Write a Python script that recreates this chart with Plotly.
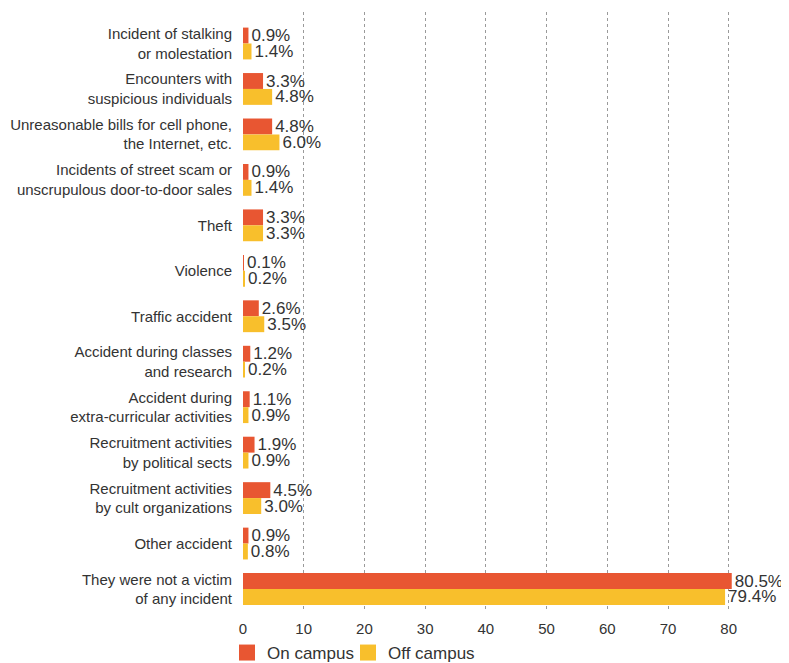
import plotly.graph_objects as go

categories = [
    "Incident of stalking<br>or molestation",
    "Encounters with<br>suspicious individuals",
    "Unreasonable bills for cell phone,<br>the Internet, etc.",
    "Incidents of street scam or<br>unscrupulous door-to-door sales",
    "Theft",
    "Violence",
    "Traffic accident",
    "Accident during classes<br>and research",
    "Accident during<br>extra-curricular activities",
    "Recruitment activities<br>by political sects",
    "Recruitment activities<br>by cult organizations",
    "Other accident",
    "They were not a victim<br>of any incident",
]
on_campus = [0.9, 3.3, 4.8, 0.9, 3.3, 0.1, 2.6, 1.2, 1.1, 1.9, 4.5, 0.9, 80.5]
off_campus = [1.4, 4.8, 6.0, 1.4, 3.3, 0.2, 3.5, 0.2, 0.9, 0.9, 3.0, 0.8, 79.4]

RED = "#E85632"
YELLOW = "#F8BF2C"
TEXT = "#333333"
FONT = "Liberation Sans, Arial"

series = [
    ("On campus", on_campus, RED, "legend"),
    ("Off campus", off_campus, YELLOW, "legend2"),
]

fig = go.Figure()
for name, vals, col, leg in series:
    fig.add_trace(go.Bar(
        y=categories, x=vals, name=name, orientation="h",
        marker=dict(color=col, line=dict(width=0)),
        text=[f"{v:.1f}%" for v in vals], textposition="outside",
        constraintext="none",
        textfont=dict(size=17, color=TEXT, family=FONT), cliponaxis=False,
        showlegend=False, legendgroup=name,
    ))
    # bigger square legend swatch, one legend box per series so they sit close
    fig.add_trace(go.Scatter(
        x=[None], y=[None], mode="markers", name=name, legendgroup=name,
        legend=leg, marker=dict(symbol="square", size=17, color=col),
    ))

leg_style = dict(orientation="h", xref="container", yref="container",
                 xanchor="left", y=0, yanchor="bottom", bgcolor="rgba(0,0,0,0)",
                 font=dict(size=17, color=TEXT), itemwidth=30)

fig.update_layout(
    width=789, height=663,
    margin=dict(l=235, r=44, t=4, b=59),
    barmode="group", bargap=0.3, bargroupgap=0,
    plot_bgcolor="white", paper_bgcolor="white",
    font=dict(family=FONT, size=15, color=TEXT),
    showlegend=True,
    legend=dict(x=219 / 789, **leg_style),
    legend2=dict(x=340 / 789, **leg_style),
)
fig.update_xaxes(range=[0, 84], tickvals=list(range(0, 81, 10)),
                 showgrid=True, gridcolor="#9a9a9a", griddash="3px,3px", gridwidth=1.2,
                 zeroline=False, showline=False, ticks="", automargin=False,
                 tickfont=dict(size=15, color=TEXT), ticklabelstandoff=6)
# a bit more room above the first group than below the last one
fig.update_yaxes(range=[12.506, -0.693], showgrid=False, ticks="", automargin=False,
                 tickfont=dict(size=15, color=TEXT), ticklabelstandoff=10)

fig.write_html("out.html")
